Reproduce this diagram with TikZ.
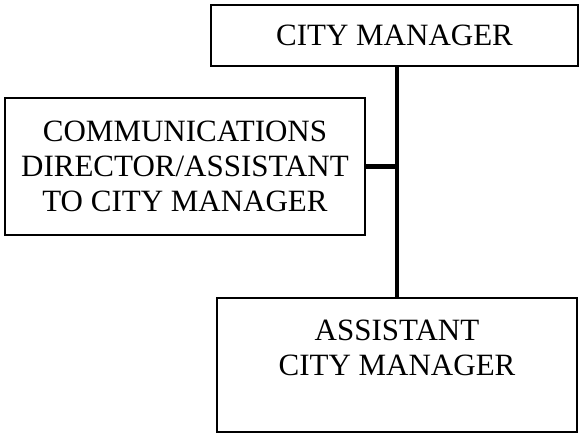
\documentclass[tikz,border=0pt]{standalone}
\usepackage{fontspec}
\setmainfont{Liberation Serif}
\usepackage{tikz}
\usetikzlibrary{positioning, calc}

\begin{document}
\begin{tikzpicture}[
  x=1pt, y=-1pt,
  every node/.style={font=\fontsize{31}{35}\selectfont},
  orgbox/.style={draw, line width=1.8pt, align=center, inner sep=0pt},
  link/.style={line width=4.5pt}
]
\useasboundingbox (0,0) rectangle (581,435);

% ---- TOP: City Manager ----
\node[orgbox, minimum width=367pt, minimum height=61pt] (cm) at (394.5, 35.5)
  {CITY MANAGER};

% ---- LEFT: staff position ----
\node[orgbox, minimum width=360pt, minimum height=137pt] (comm) at (185, 166.5)
  {COMMUNICATIONS\\DIRECTOR/ASSISTANT\\TO CITY MANAGER};

% ---- BOTTOM: Assistant City Manager ----
\node[orgbox, minimum width=360pt, minimum height=134pt] (asst) at (397, 365)
  {ASSISTANT\\CITY MANAGER\\~};

% ---- CONNECTORS ----
\draw[link] (asst.north) -- (asst.north |- cm.south);
\draw[link] (comm.east) -- (comm.east -| asst.north);

\end{tikzpicture}
\end{document}
